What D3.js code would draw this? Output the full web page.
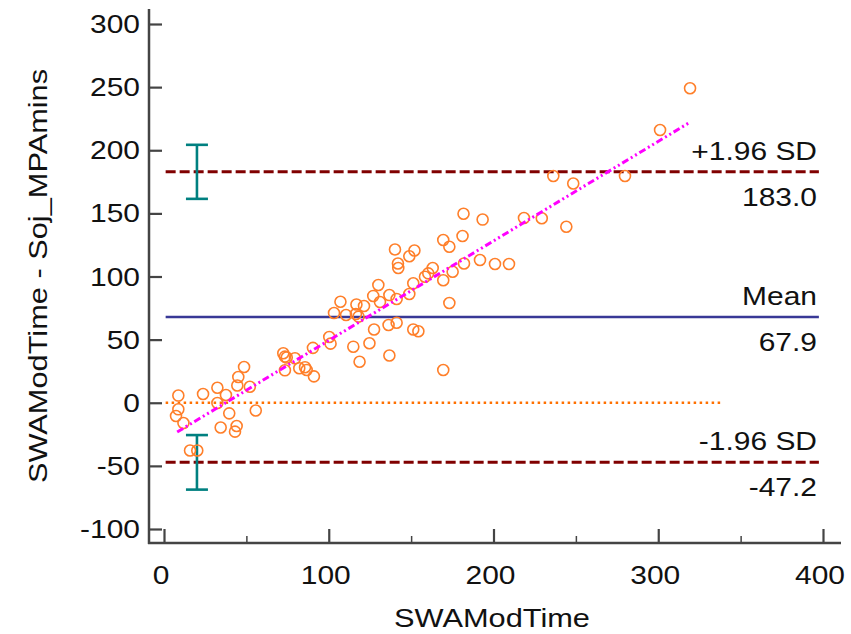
<!DOCTYPE html>
<html>
  <head>
    <meta charset="utf-8">
    <title>Bland-Altman plot</title>
    <script src="https://d3js.org/d3.v7.min.js"></script>
    <style>
      body { margin: 0; background: #ffffff; }
      svg { display: block; font-family: "Liberation Sans", Arial, sans-serif; }
      .axis path, .axis line { stroke: #444444; }
      text { fill: #111111; }
    </style>
  </head>
  <body>
    <svg width="851" height="634"></svg>
    <script>
      // average (x) and difference (y) per subject
      var avgValues = [8.7, 8.7, 7.3, 11.8, 23.7, 32.4, 32.4, 37.6, 39.6, 34.4, 44.1, 43.1, 45.1, 44.5,
        48.6, 52.1, 55.7, 15.8, 20.2, 72.4, 73.4, 74.5, 73.4, 79.5, 82.1, 85.6, 86.6, 91.0, 90.4,
        100.3, 101.1, 103.2, 107.1, 110.5, 114.9, 118.7, 116.8, 121.4, 116.5, 118.1, 127.0, 130.1,
        131.1, 136.8, 141.2, 124.7, 127.5, 136.3, 136.8, 141.2, 140.2, 142.0, 142.2, 148.9, 152.0,
        148.9, 151.3, 151.3, 154.4, 158.4, 160.4, 163.1, 169.5, 173.2, 169.5, 175.2, 182.1, 191.8,
        200.9, 209.4, 169.5, 173.2, 181.2, 181.8, 193.4, 218.5, 229.3, 244.2, 236.3, 248.4, 279.8,
        301.1, 319.3];
      var diffValues = [5.7, -5.2, -10.5, -16.0, 6.9, 11.9, -0.2, 6.1, -8.4, -19.6, -18.4, -22.9, 20.4, 13.7,
        28.3, 12.7, -6.1, -37.8, -37.8, 39.2, 36.5, 35.8, 25.7, 35.2, 27.3, 28.1, 25.9, 20.9, 43.5,
        52.1, 46.8, 71.1, 80.0, 69.5, 44.4, 32.5, 77.8, 76.6, 70.3, 68.2, 84.6, 93.3,
        79.8, 85.3, 82.2, 47.1, 58.0, 61.6, 37.4, 63.4, 121.4, 110.3, 106.7, 116.0, 120.6,
        86.1, 94.6, 58.0, 56.6, 99.8, 102.5, 106.7, 97.0, 79.0, 25.9, 103.8, 110.3, 113.1,
        109.9, 109.9, 128.9, 123.6, 132.1, 149.7, 145.1, 146.3, 146.1, 139.4, 179.6, 173.7, 179.6,
        216.0, 249.1];

      var limitNames = ["+1.96 SD", "Mean", "-1.96 SD"];
      var limitValues = [183.0, 67.9, -47.2];
      var limitLabels = ["183.0", "67.9", "-47.2"];
      // 95% CI of the limits of agreement
      var ciLow = [161.5, -68.8];
      var ciHigh = [204.3, -25.6];
      var ciAt = 20;
      // regression of differences on averages (end points)
      var regX = [8, 319];
      var regY = [-23.2, 222];
      var zeroLineEnd = 338;
      var lineEnd = 397.5;

      var xTicks = [0, 100, 200, 300, 400];
      var xMinor = [50, 150, 250, 350];
      var yTicks = [-100, -50, 0, 50, 100, 150, 200, 250, 300];

      var svg = d3.select("svg");
      var x = d3.scaleLinear().domain([0, 400]).range([164, 823]);
      var y = d3.scaleLinear().domain([-100, 300]).range([529, 24]);

      // axes sit a bit off the data area
      var axisX = 149, axisY = 543;
      // the original text is rendered wide
      var stretch = 1.17;

      function label(parent, tx, ty, str, size, anchor, rot) {
        return parent.append("text")
          .attr("transform", "translate(" + tx + "," + ty + ")" + (rot ? " rotate(" + rot + ")" : "") + " scale(" + stretch + ",1)")
          .attr("text-anchor", anchor)
          .attr("font-size", size)
          .text(str);
      }

      var yAxis = svg.append("g")
        .attr("class", "axis")
        .attr("transform", "translate(" + axisX + ",0)")
        .call(d3.axisRight(y).tickValues(yTicks).tickSize(13).tickFormat(""));
      yAxis.select(".domain").remove();
      yAxis.selectAll("line").attr("stroke-width", 2.2);
      svg.append("line")
        .attr("x1", axisX).attr("x2", axisX).attr("y1", 9).attr("y2", axisY + 1)
        .attr("stroke", "#444444").attr("stroke-width", 2.5);
      yTicks.forEach(function(d) {
        label(svg, 140, y(d) + 9, d, 25.6, "end");
      });

      var xAxis = svg.append("g")
        .attr("class", "axis")
        .attr("transform", "translate(0," + axisY + ")")
        .call(d3.axisTop(x).tickValues(xTicks).tickSize(14).tickFormat(""));
      xAxis.select(".domain").remove();
      xAxis.selectAll("line").attr("stroke-width", 2.2);
      svg.append("g")
        .attr("transform", "translate(0," + axisY + ")")
        .call(d3.axisTop(x).tickValues(xMinor).tickSize(7).tickFormat(""))
        .call(function(g) { g.select(".domain").remove(); })
        .selectAll("line").attr("stroke", "#444444").attr("stroke-width", 1.5);
      svg.append("line")
        .attr("x1", axisX - 1).attr("x2", 841).attr("y1", axisY).attr("y2", axisY)
        .attr("stroke", "#444444").attr("stroke-width", 2.5);
      xTicks.forEach(function(d) {
        label(svg, x(d) - 3, 584, d, 25.6, "middle");
      });

      label(svg, 492, 627, "SWAModTime", 26.3, "middle");
      label(svg, 47, 276, "SWAModTime - Soj_MPAmins", 26.3, "middle", -90);

      // zero line
      svg.append("line")
        .attr("x1", x(1)).attr("x2", x(zeroLineEnd))
        .attr("y1", y(0)).attr("y2", y(0))
        .attr("stroke", "#ff7000").attr("stroke-width", 2.5)
        .attr("stroke-dasharray", "2.5,3.5");

      // mean and limits of agreement
      limitValues.forEach(function(v, i) {
        var isMean = limitNames[i] == "Mean";
        svg.append("line")
          .attr("x1", x(1)).attr("x2", x(lineEnd))
          .attr("y1", y(v)).attr("y2", y(v))
          .attr("stroke", isMean ? "#383896" : "#800000")
          .attr("stroke-width", isMean ? 2.6 : 3)
          .attr("stroke-dasharray", isMean ? null : "10,4");
        label(svg, 817, y(v) - 12, limitNames[i], 25.6, "end");
        label(svg, 817, y(v) + 34, limitLabels[i], 25.6, "end");
      });

      // CI error bars
      var ci = svg.append("g").attr("stroke", "#008080").attr("stroke-width", 2.6);
      ciLow.forEach(function(lo, i) {
        var hi = ciHigh[i];
        ci.append("line").attr("x1", x(ciAt)).attr("x2", x(ciAt)).attr("y1", y(lo)).attr("y2", y(hi));
        ci.append("line").attr("x1", x(ciAt) - 11).attr("x2", x(ciAt) + 11).attr("y1", y(lo)).attr("y2", y(lo));
        ci.append("line").attr("x1", x(ciAt) - 11).attr("x2", x(ciAt) + 11).attr("y1", y(hi)).attr("y2", y(hi));
      });

      // points
      svg.append("g").selectAll("circle")
        .data(avgValues)
        .join("circle")
        .attr("cx", function(d) { return x(d); })
        .attr("cy", function(d, i) { return y(diffValues[i]); })
        .attr("r", 5.5)
        .attr("fill", "none")
        .attr("stroke", "#ff7f2a")
        .attr("stroke-width", 1.6);

      // regression line
      svg.append("line")
        .attr("x1", x(regX[0])).attr("x2", x(regX[1]))
        .attr("y1", y(regY[0])).attr("y2", y(regY[1]))
        .attr("stroke", "#ff00ff").attr("stroke-width", 3)
        .attr("stroke-dasharray", "7,3,2,3,2,3");
    </script>
  </body>
</html>
